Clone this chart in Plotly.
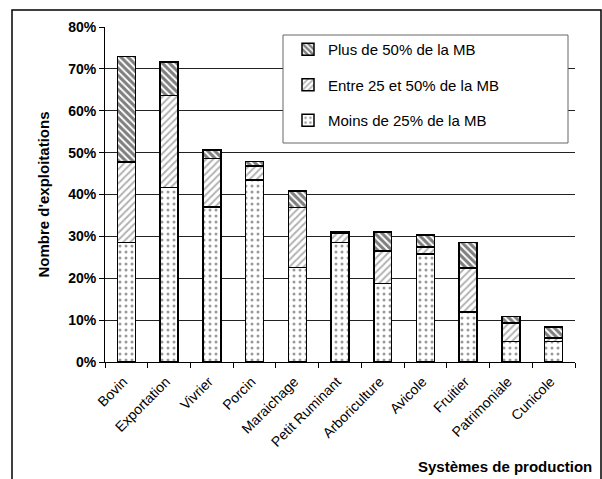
import plotly.graph_objects as go

categories = ["Bovin", "Exportation", "Vivrier", "Porcin", "Maraichage", "Petit Ruminant",
              "Arboriculture", "Avicole", "Fruitier", "Patrimoniale", "Cunicole"]
moins_25 = [28.5, 41.7, 37.0, 43.5, 22.6, 28.5, 18.8, 25.8, 12.0, 4.9, 4.9]
entre_25_50 = [19.3, 22.0, 11.6, 3.3, 14.3, 2.2, 7.7, 1.7, 10.5, 4.4, 0.8]
plus_50 = [25.2, 7.9, 2.0, 1.1, 3.9, 0.4, 4.5, 2.8, 6.0, 1.6, 2.7]
series_names = ["Moins de 25% de la MB", "Entre 25 et 50% de la MB", "Plus de 50% de la MB"]
y_ticks = [0, 10, 20, 30, 40, 50, 60, 70, 80]
y_tick_labels = [f"{v}%" for v in y_ticks]

FONT = "Liberation Sans, Arial, sans-serif"

patterns = [
    dict(shape=".", fgcolor="#333333", bgcolor="white", size=6, solidity=0.2, fillmode="overlay"),
    dict(shape="/", fgcolor="#666666", bgcolor="white", size=5, solidity=0.4, fillmode="overlay"),
    dict(shape="\\", fgcolor="#000000", bgcolor="white", size=5, solidity=0.62, fillmode="overlay"),
]
ranks = [3, 2, 1]

fig = go.Figure()
for i, (name, vals) in enumerate(zip(series_names, [moins_25, entre_25_50, plus_50])):
    fig.add_trace(go.Bar(
        x=categories, y=vals, name=name, legendgroup=name, legendrank=ranks[i],
        marker=dict(color="white", line=dict(color="black", width=1.5), pattern=patterns[i]),
        width=0.42,
    ))

fig.update_layout(
    width=602, height=479,
    margin=dict(l=105, r=27, t=27, b=117, autoexpand=False),
    barmode="stack",
    plot_bgcolor="white", paper_bgcolor="white",
    font=dict(family=FONT, color="black"),
    showlegend=True,
    legend=dict(
        x=(288 - 105) / 470, y=(362 - 33) / 335, xanchor="left", yanchor="top",
        traceorder="grouped", tracegroupgap=13,
        font=dict(family=FONT, size=15, color="black"),
        bgcolor="rgba(0,0,0,0)", borderwidth=0, itemwidth=30,
    ),
    xaxis=dict(
        tickangle=-45, tickfont=dict(family=FONT, size=14),
        showline=True, linecolor="black", linewidth=1,
        ticks="outside", ticklen=5, tickcolor="black", tickson="boundaries",
        ticklabelstandoff=5, ticklabelshift=-3,
        showgrid=False, automargin=False,
    ),
    yaxis=dict(
        range=[0, 80], tickvals=y_ticks, ticktext=y_tick_labels,
        tickfont=dict(family=FONT, size=14, weight="bold"),
        showline=True, linecolor="black", linewidth=1,
        ticks="outside", ticklen=5, tickcolor="black",
        showgrid=True, gridcolor="#222222", gridwidth=1,
        title=dict(text="Nombre d'exploitations", font=dict(family=FONT, size=15, weight="bold"), standoff=14),
        zeroline=False, automargin=False,
    ),
    shapes=[
        dict(type="rect", xref="paper", yref="paper",
             x0=(12 - 105) / 470, x1=(601 - 105) / 470,
             y0=(362 - 520) / 335, y1=(362 - 10) / 335,
             line=dict(color="black", width=1.5), fillcolor="rgba(0,0,0,0)", layer="below"),
        dict(type="rect", xref="paper", yref="paper",
             x0=(283 - 105) / 470, x1=(568 - 105) / 470,
             y0=(362 - 143) / 335, y1=(362 - 35) / 335,
             line=dict(color="#666666", width=1), fillcolor="white", layer="above"),
    ],
    annotations=[
        dict(text="Systèmes de production", xref="paper", yref="paper",
             x=(594 - 105) / 470, y=(362 - 466) / 335, xanchor="right", yanchor="middle",
             showarrow=False, font=dict(family=FONT, size=15, weight="bold")),
    ],
)

fig.write_html("out.html", config={"displayModeBar": False},
               post_script="document.body.style.margin='0';")
